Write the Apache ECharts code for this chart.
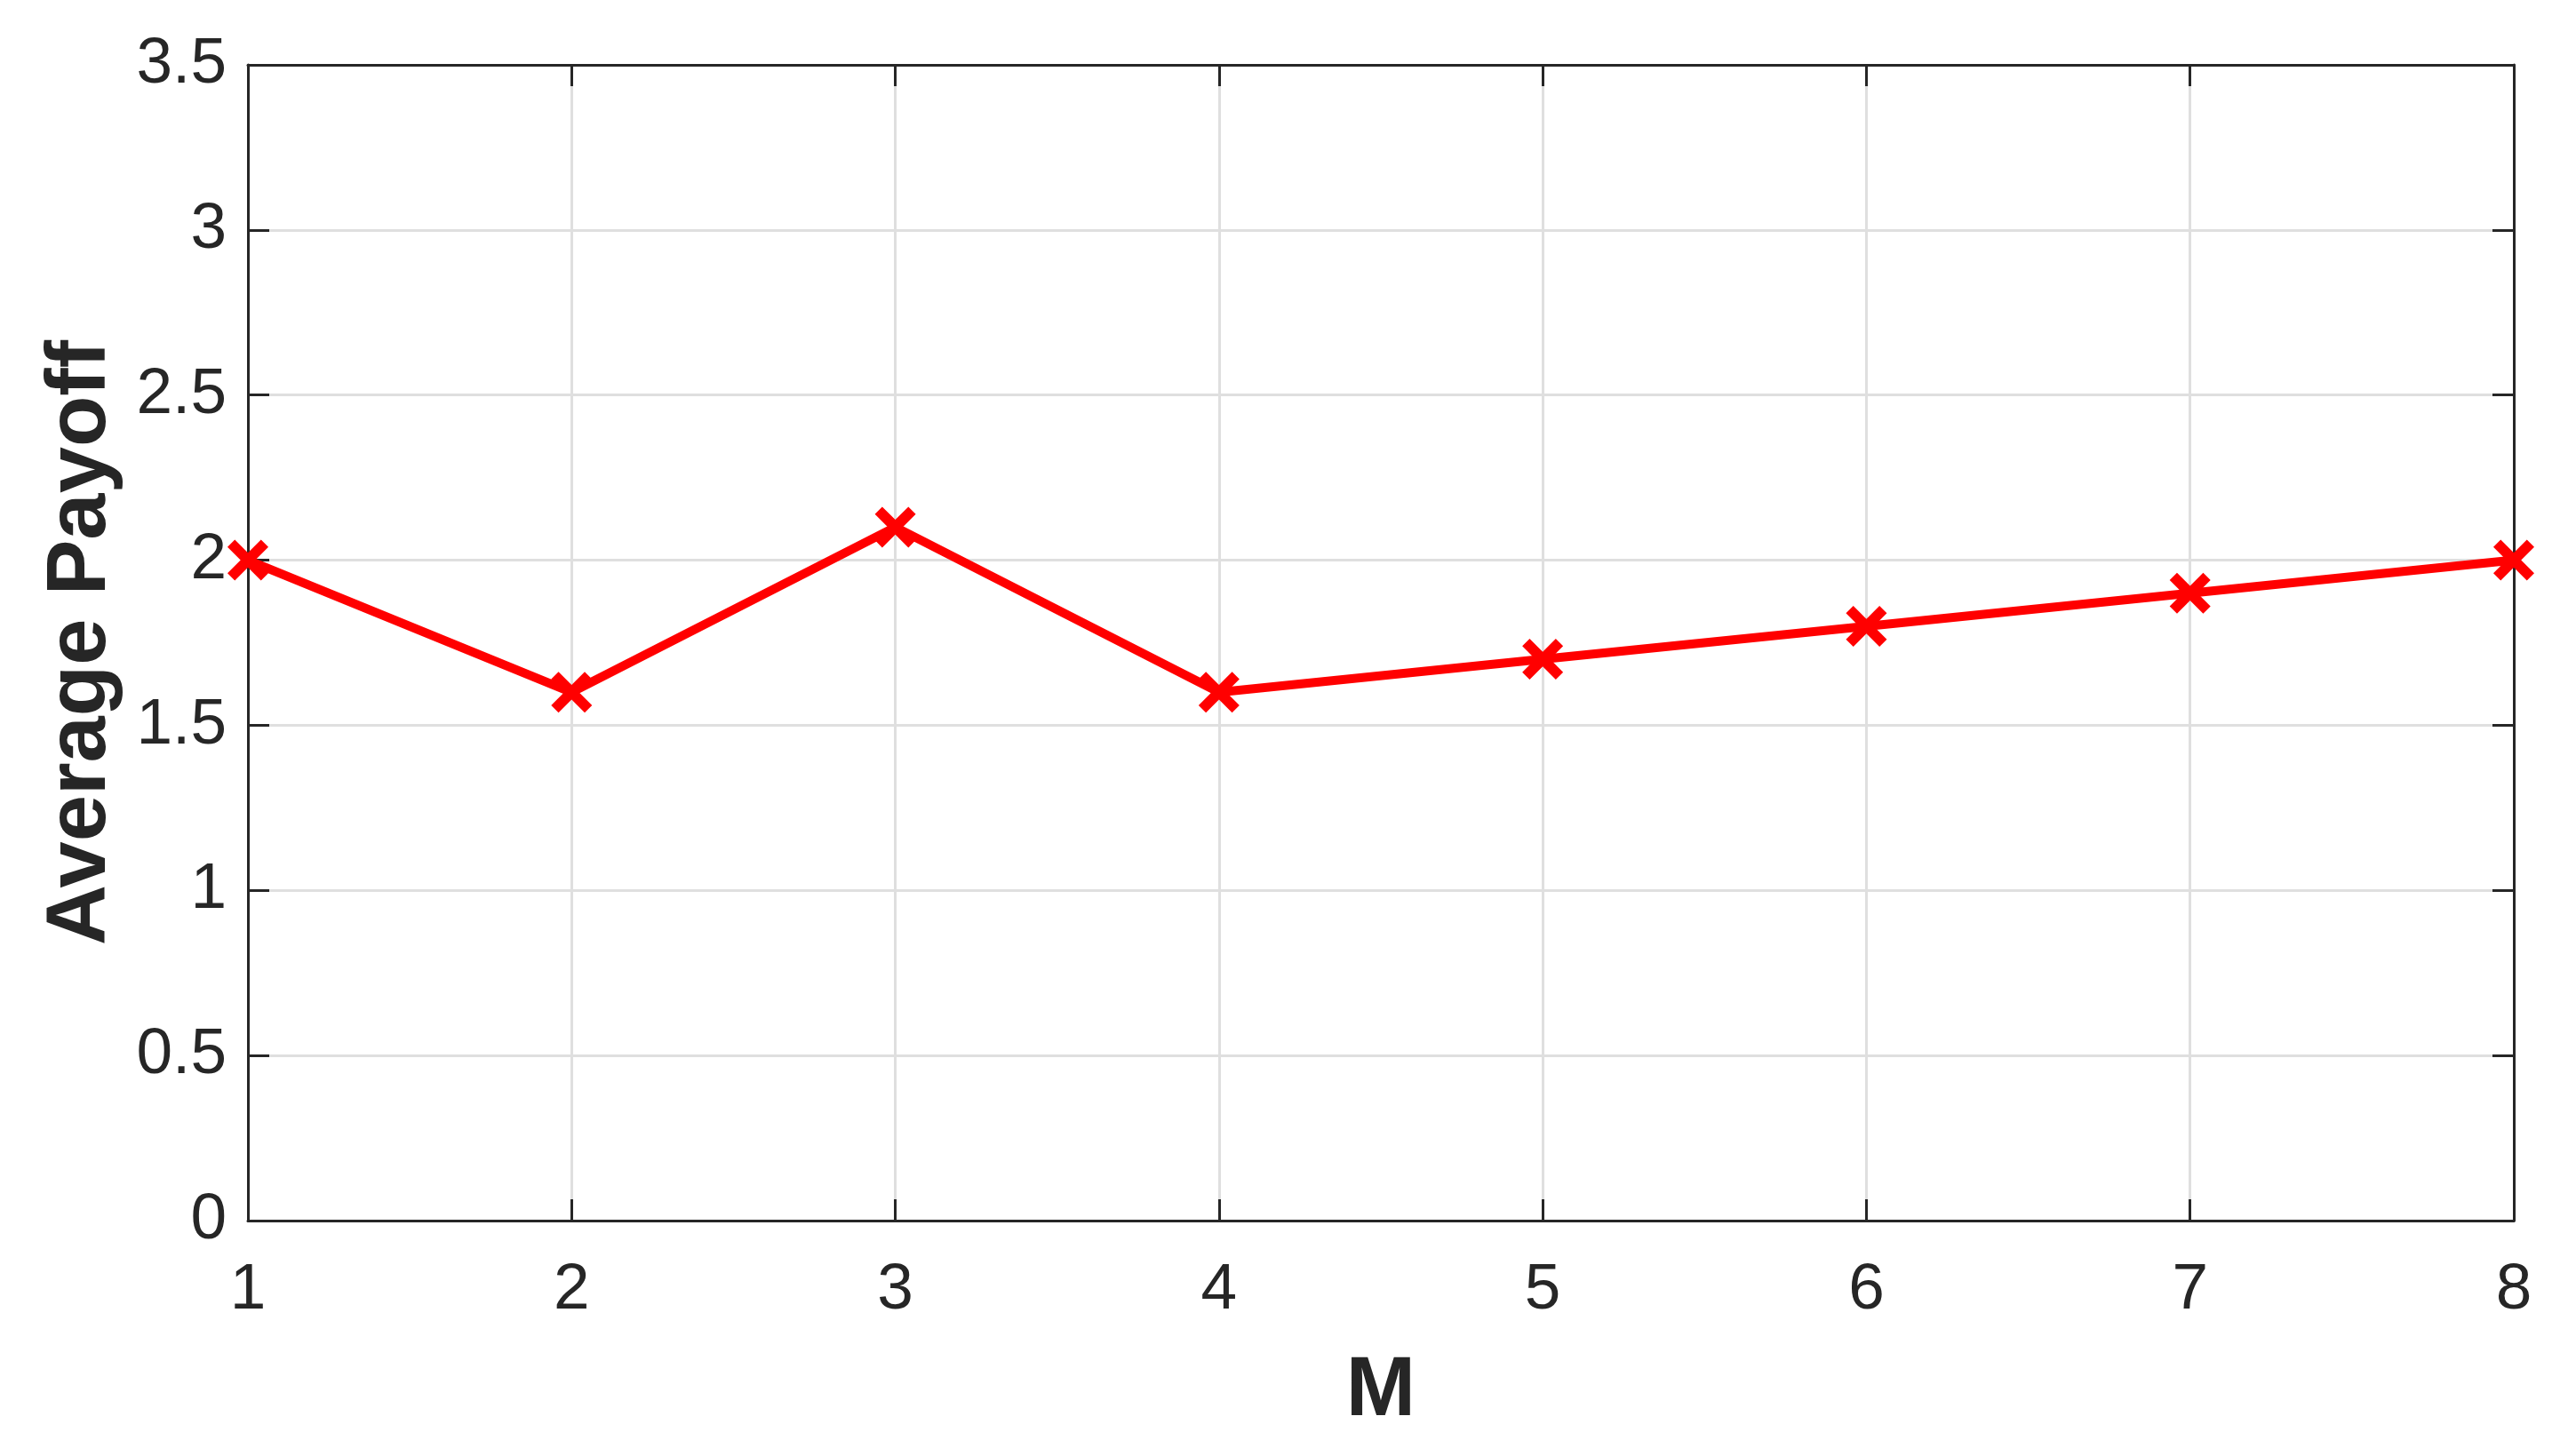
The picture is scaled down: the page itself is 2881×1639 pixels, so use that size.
<!DOCTYPE html>
<html>
<head>
<meta charset="utf-8">
<script src="https://cdn.jsdelivr.net/npm/echarts@6/dist/echarts.min.js"></script>
<style>
html,body{margin:0;padding:0;background:#fff;}
#c{width:2881px;height:1639px;}
</style>
</head>
<body>
<div id="c"></div>
<script>
var mValues = [1, 2, 3, 4, 5, 6, 7, 8];
var payoff = [2.0, 1.6, 2.1, 1.6, 1.7, 1.8, 1.9, 2.0];
var xLabel = 'M';
var yLabel = 'Average Payoff';

var ink = '#262626';
var font = 'Liberation Sans, Arial, Helvetica, sans-serif';
var xMark = 'path://M0,18 L18,0 L50,32 L82,0 L100,18 L68,50 L100,82 L82,100 L50,68 L18,100 L0,82 L32,50 Z';

var chart = echarts.init(document.getElementById('c'), null, {renderer: 'canvas'});
var baseAxis = {
  axisLine: {show: true, onZero: false, lineStyle: {color: ink, width: 3}},
  axisTick: {show: true, inside: true, length: 24, lineStyle: {color: ink, width: 3}}
};
chart.setOption({
  backgroundColor: '#ffffff',
  animation: false,
  grid: {left: 279, right: 52, top: 73, bottom: 265, containLabel: false},
  xAxis: [
    Object.assign({}, baseAxis, {
      type: 'value', min: 1, max: 8, interval: 1, position: 'bottom',
      name: xLabel, nameLocation: 'middle', nameGap: 146,
      nameTextStyle: {color: ink, fontSize: 94, fontWeight: 'bold', fontFamily: font},
      axisLabel: {color: ink, fontSize: 73, fontFamily: font, margin: 42},
      splitLine: {show: true, lineStyle: {color: '#dfdfdf', width: 3}}
    }),
    Object.assign({}, baseAxis, {
      type: 'value', min: 1, max: 8, interval: 1, position: 'top',
      axisLabel: {show: false}, splitLine: {show: false}
    })
  ],
  yAxis: [
    Object.assign({}, baseAxis, {
      type: 'value', min: 0, max: 3.5, interval: 0.5, position: 'left',
      name: yLabel, nameLocation: 'middle', nameGap: 140, nameRotate: 90,
      nameTextStyle: {color: ink, fontSize: 94, fontWeight: 'bold', fontFamily: font},
      axisLabel: {color: ink, fontSize: 73, fontFamily: font, margin: 24},
      splitLine: {show: true, lineStyle: {color: '#dfdfdf', width: 3}}
    }),
    Object.assign({}, baseAxis, {
      type: 'value', min: 0, max: 3.5, interval: 0.5, position: 'right',
      axisLabel: {show: false}, splitLine: {show: false}
    })
  ],
  series: [{
    type: 'line',
    xAxisIndex: 0, yAxisIndex: 0,
    data: mValues.map(function (m, i) { return [m, payoff[i]]; }),
    clip: false,
    z: 5,
    lineStyle: {color: '#ff0000', width: 10},
    itemStyle: {color: '#ff0000'},
    symbol: xMark,
    symbolSize: 46,
    showSymbol: true
  }]
});
</script>
</body>
</html>
